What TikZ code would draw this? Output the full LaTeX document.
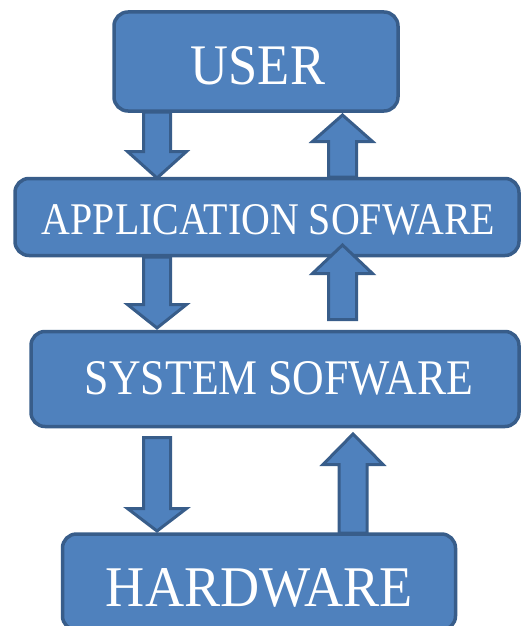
\documentclass[tikz,border=0pt]{standalone}
\usepackage{fontspec}
\setmainfont{Liberation Serif}
\usepackage{graphicx}
\definecolor{boxfill}{HTML}{4F81BD}
\definecolor{boxline}{HTML}{385D8A}
\newcommand\blkarrow[6]{% #1 x centre, #2 y tail, #3 y head base, #4 y tip, #5 shaft half width, #6 head half width
  \draw[blockarrow] ({#1-#5},#2) -- ({#1-#5},#3) -- ({#1-#6},#3) -- (#1,#4) -- ({#1+#6},#3) -- ({#1+#5},#3) -- ({#1+#5},#2) -- cycle;}
\begin{document}
\begin{tikzpicture}[x=1pt,y=-1pt,
  layerbox/.style={draw=boxline, fill=boxfill, line width=3.5pt, rounded corners=14pt,
    inner sep=0pt},
  layertext/.style={text=white, inner sep=0pt},
  blockarrow/.style={draw=boxline, fill=boxfill, line width=3pt, line join=miter}]
\useasboundingbox (0,0) rectangle (522,626);
\clip (0,0) rectangle (522,626);
% boxes
\node[layerbox, minimum width=284pt, minimum height=99pt] (user) at (256,61.5) {};
\node[layerbox, minimum width=504pt, minimum height=77pt] (app) at (267,217) {};
\node[layerbox, minimum width=488pt, minimum height=95pt] (sys) at (275,379) {};
\node[layerbox, minimum width=393pt, minimum height=96pt] (hw) at (259,582) {};
% texts
\node[layertext] (usertxt) at (258,66) {\resizebox{134pt}{38pt}{USER}};
\node[layertext] (apptxt) at (268.5,220) {\resizebox{453pt}{30pt}{APPLICATION SOFWARE}};
\node[layertext] (systxt) at (279,378.5) {\resizebox{388pt}{33pt}{SYSTEM SOFWARE}};
\node[layertext] (hwtxt) at (259.5,587.5) {\resizebox{307pt}{38pt}{HARDWARE}};
% block arrows
\blkarrow{157}{112}{151.5}{178}{13.5}{29.5}
\blkarrow{342.5}{177}{141.5}{115}{14}{30}
\blkarrow{157}{257}{304.5}{328}{13.5}{29.5}
\blkarrow{342.5}{319.5}{273.5}{245}{14}{30}
\blkarrow{157}{437.5}{508.5}{531}{13.5}{29.5}
\blkarrow{353}{533}{464.5}{434}{14}{30}
\end{tikzpicture}
\end{document}
